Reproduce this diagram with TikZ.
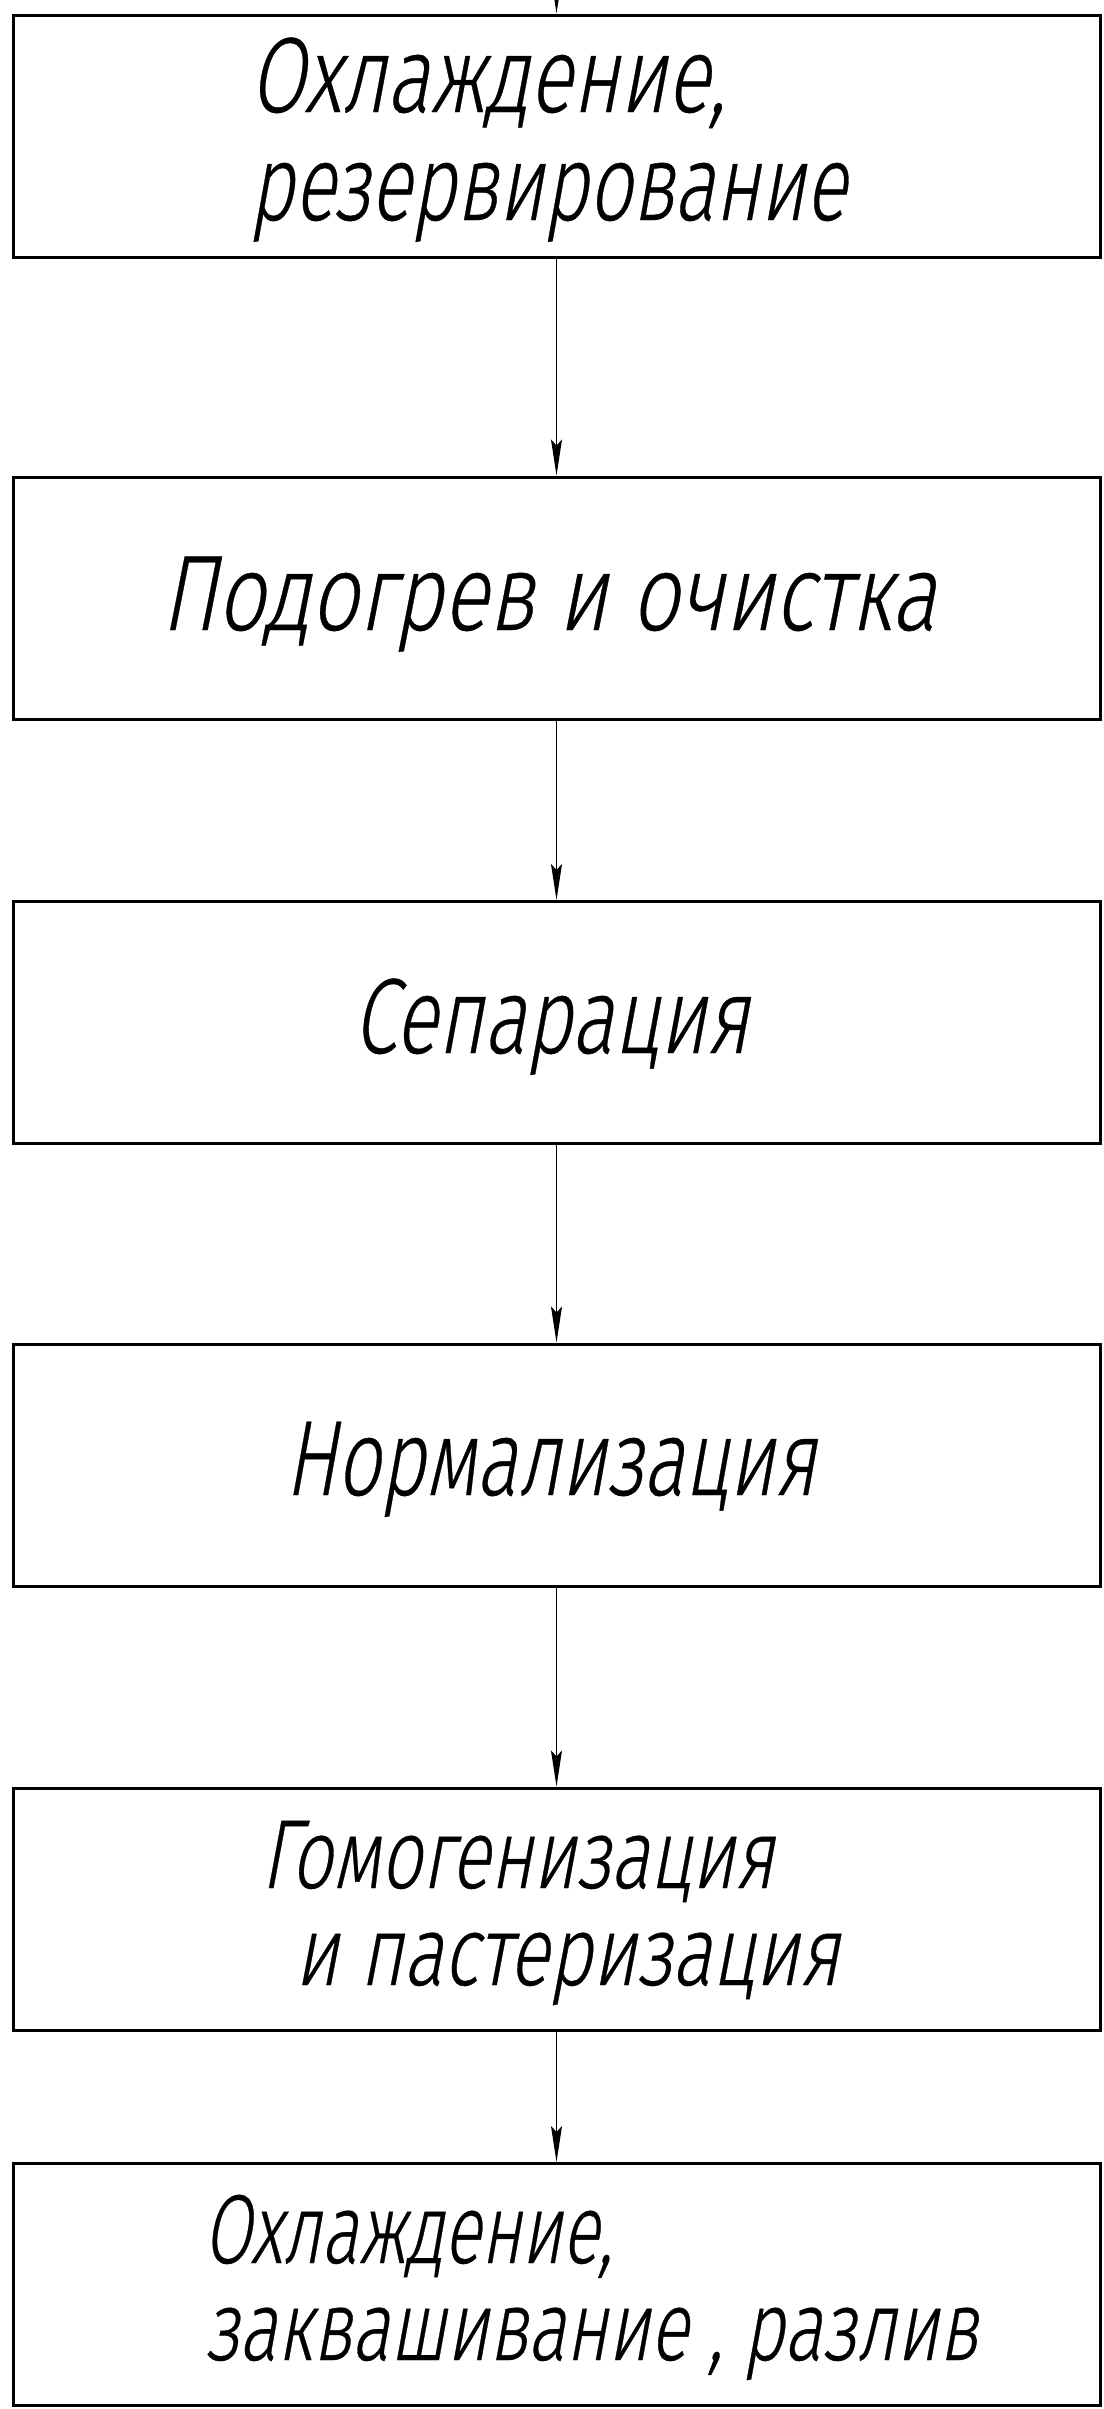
\documentclass[tikz,border=0pt]{standalone}
\usepackage{fontspec}
\usepackage{graphicx}
\setmainfont{Fira Sans Light}[FakeSlant=0.25, FakeBold=0.4]
\usetikzlibrary{arrows.meta}

% set a caption line to a given width, keeping its height
\newcommand{\fitw}[2]{\resizebox{#1}{\height}{#2}}

\begin{document}
\begin{tikzpicture}[x=1pt, y=-1pt,
  stage/.style={draw, line width=3pt, minimum width=1087pt, minimum height=242pt, inner sep=0pt},
  flow/.style={line width=1.1pt, -{Stealth[length=36pt, width=11pt, inset=6pt]}},
  stagetext/.style={inner sep=0pt, anchor=base, font=\fontsize{107}{110}\selectfont},
  smalltext/.style={stagetext, font=\fontsize{98}{100}\selectfont},
]
\useasboundingbox (0,0) rectangle (1103,2409);

% process stages
\node[stage] (b1) at (556.5,136)    {};
\node[stage] (b2) at (556.5,598)    {};
\node[stage] (b3) at (556.5,1022.5) {};
\node[stage] (b4) at (556.5,1465)   {};
\node[stage] (b5) at (556.5,1909)   {};
\node[stage] (b6) at (556.5,2284.5) {};

% stage captions
\node[stagetext] (t1a) at (487.5,112) {\fitw{476pt}{Охлаждение,}};
\node[stagetext] (t1b) at (548,220)   {\fitw{597pt}{резервирование}};
\node[stagetext] (t2)  at (548.5,630) {\fitw{775pt}{Подогрев и очистка}};
\node[stagetext] (t3)  at (551,1053)  {\fitw{396pt}{Сепарация}};
\node[stagetext] (t4)  at (550.5,1495){\fitw{531pt}{Нормализация}};
\node[smalltext] (t5a) at (517.5,1888){\fitw{513pt}{Гомогенизация}};
\node[smalltext] (t5b) at (567,1985)  {\fitw{545pt}{и пастеризация}};
\node[smalltext] (t6a) at (408,2263)  {\fitw{409pt}{Охлаждение,}};
\node[smalltext] (t6b) at (591.5,2360){\fitw{773pt}{заквашивание , разлив}};

% flow between stages
\coordinate (feed) at (556.5,-80);
\draw[flow] (feed) -- (b1.north);
\draw[flow] (b1.south) -- (b2.north);
\draw[flow] (b2.south) -- (b3.north);
\draw[flow] (b3.south) -- (b4.north);
\draw[flow] (b4.south) -- (b5.north);
\draw[flow] (b5.south) -- (b6.north);
\end{tikzpicture}
\end{document}
